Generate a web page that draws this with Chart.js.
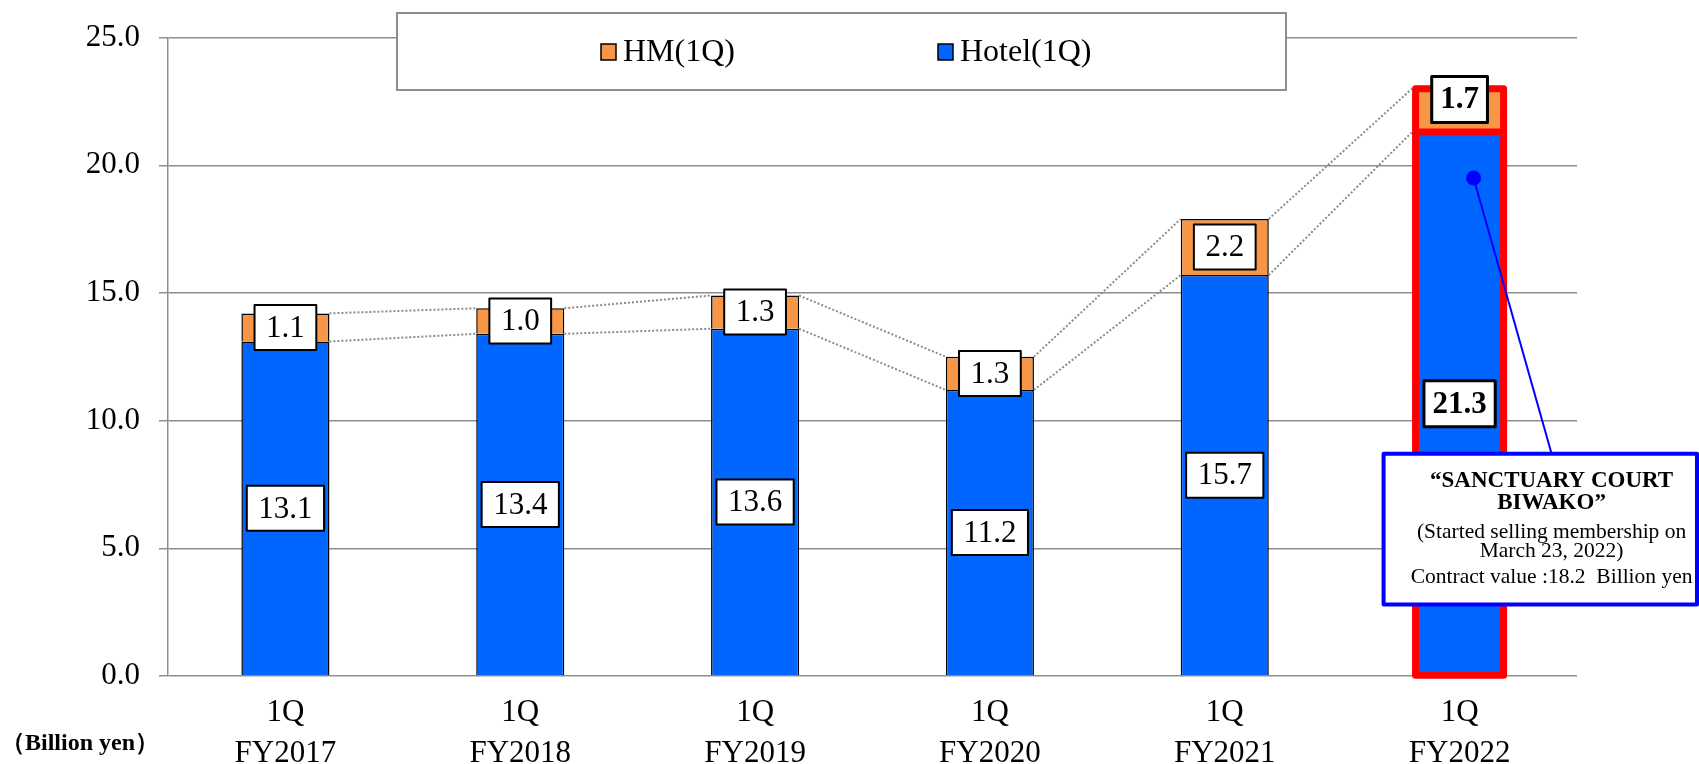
<!DOCTYPE html>
<html lang="en">
<head>
  <meta charset="UTF-8" />
  <title>1Q Sales Chart</title>
  <script src="https://cdn.jsdelivr.net/npm/chart.js"></script>
  <style>
    html, body { margin: 0; padding: 0; background: #fff; }
  </style>
</head>
<body>
  <canvas id="salesChart" width="1699" height="764"></canvas>

  <script>
    const categoryLabels = [["1Q", "FY2017"], ["1Q", "FY2018"], ["1Q", "FY2019"], ["1Q", "FY2020"], ["1Q", "FY2021"], ["1Q", "FY2022"]];
    const hotelValues = [13.1, 13.4, 13.6, 11.2, 15.7, 21.3];
    const hmValues = [1.1, 1.0, 1.3, 1.3, 2.2, 1.7];
    const yTickValues = [0, 5, 10, 15, 20, 25];
    const seriesNames = ["Hotel(1Q)", "HM(1Q)"];
    const highlightIndex = 5;
    const calloutDotValue = 19.5;
    const calloutTitle = ["\u201CSANCTUARY COURT", "BIWAKO\u201D"];
    const calloutNotes = ["(Started selling membership on", "March 23, 2022)", "Contract value :18.2  Billion yen"];
    const unitLabel = "\uFF08Billion yen\uFF09";

    const SERIF = "'Liberation Serif', 'Times New Roman', serif";
    const BLUE = "#0066FF";
    const ORANGE = "#F79646";
    const GRID = "#8e8e8e";

    function boxLabel(ctx, text, cx, cy, bold) {
      ctx.font = (bold ? "bold " : "") + "31px " + SERIF;
      const w = ctx.measureText(text).width + (bold ? 17 : 23);
      const h = bold ? 46 : 45;
      ctx.fillStyle = "#fff";
      ctx.fillRect(cx - w / 2, cy - h / 2, w, h);
      ctx.lineWidth = bold ? 3 : 2;
      ctx.strokeStyle = "#000";
      ctx.strokeRect(cx - w / 2, cy - h / 2, w, h);
      ctx.fillStyle = "#000";
      ctx.textAlign = "center";
      ctx.textBaseline = "middle";
      ctx.fillText(text, cx, cy + 1);
    }

    const extras = {
      id: "extras",
      afterDatasetsDraw(chart) {
        const ctx = chart.ctx;
        const hotel = chart.getDatasetMeta(0).data;
        const hm = chart.getDatasetMeta(1).data;
        const ys = chart.scales.y;
        ctx.save();

        // dotted connectors between bar tops
        ctx.strokeStyle = "#8c8c8c";
        ctx.lineWidth = 2;
        ctx.setLineDash([2, 2]);
        for (let i = 0; i < hotel.length - 1; i++) {
          const a = hotel[i], b = hotel[i + 1];
          const extra = (i + 1 === highlightIndex) ? 3.5 : 0;
          [[hm[i].y, hm[i + 1].y], [a.y, b.y]].forEach(([y1, y2]) => {
            ctx.beginPath();
            ctx.moveTo(a.x + a.width / 2, y1);
            ctx.lineTo(b.x - b.width / 2 - extra, y2);
            ctx.stroke();
          });
        }
        ctx.setLineDash([]);

        // red outline on highlighted bar
        const hb = hotel[highlightIndex], hh = hm[highlightIndex];
        ctx.strokeStyle = "#FF0000";
        ctx.lineWidth = 7;
        ctx.lineJoin = "round";
        ctx.strokeRect(hb.x - hb.width / 2, hh.y, hb.width, hb.base - hh.y);
        ctx.beginPath();
        ctx.moveTo(hb.x - hb.width / 2, hb.y);
        ctx.lineTo(hb.x + hb.width / 2, hb.y);
        ctx.stroke();

        // value labels
        for (let i = 0; i < hotel.length; i++) {
          const bold = i === highlightIndex;
          boxLabel(ctx, hotelValues[i].toFixed(1), hotel[i].x, (hotel[i].y + hotel[i].base) / 2, bold);
          const shift = bold ? -11 : 0;
          boxLabel(ctx, hmValues[i].toFixed(1), hm[i].x, (hm[i].y + hm[i].base) / 2 + shift, bold);
        }

        // callout
        const boxL = hb.x - 76, boxR = chart.width - 2;
        const boxT = ys.getPixelForValue(8.7), boxB = ys.getPixelForValue(2.8);
        const textX = hb.x + 92;
        const dotX = hb.x + 14, dotY = ys.getPixelForValue(calloutDotValue);
        ctx.strokeStyle = "#0000FF";
        ctx.lineWidth = 2;
        ctx.beginPath();
        ctx.moveTo(dotX, dotY);
        ctx.lineTo(textX, boxT);
        ctx.stroke();
        ctx.fillStyle = "#0000FF";
        ctx.beginPath();
        ctx.arc(dotX, dotY, 7.5, 0, Math.PI * 2);
        ctx.fill();
        ctx.fillStyle = "#fff";
        ctx.fillRect(boxL, boxT, boxR - boxL, boxB - boxT);
        ctx.lineWidth = 4;
        ctx.strokeRect(boxL, boxT, boxR - boxL, boxB - boxT);
        ctx.fillStyle = "#000";
        ctx.textAlign = "center";
        ctx.textBaseline = "middle";
        ctx.font = "bold 23px " + SERIF;
        ctx.fillText(calloutTitle[0], textX, boxT + 27);
        ctx.fillText(calloutTitle[1], textX, boxT + 49);
        ctx.font = "21.5px " + SERIF;
        ctx.fillText(calloutNotes[0], textX, boxT + 79);
        ctx.fillText(calloutNotes[1], textX, boxT + 98);
        ctx.fillText(calloutNotes[2], textX, boxT + 124);
        ctx.restore();
      },
      afterDraw(chart) {
        const ctx = chart.ctx;
        const ca = chart.chartArea;
        ctx.save();
        // legend box
        const lx = ca.left + 229, lw = 889, ly = 13, lh = 77;
        ctx.fillStyle = "#fff";
        ctx.fillRect(lx, ly, lw, lh);
        ctx.strokeStyle = GRID;
        ctx.lineWidth = 2;
        ctx.strokeRect(lx, ly, lw, lh);
        const items = [
          { name: seriesNames[1], color: ORANGE, x: lx + 204 },
          { name: seriesNames[0], color: BLUE, x: lx + 541 }
        ];
        ctx.font = "32px " + SERIF;
        ctx.textBaseline = "middle";
        ctx.textAlign = "left";
        items.forEach(it => {
          ctx.fillStyle = it.color;
          ctx.fillRect(it.x, 44, 15, 16);
          ctx.strokeStyle = "#000";
          ctx.lineWidth = 1.5;
          ctx.strokeRect(it.x, 44, 15, 16);
          ctx.fillStyle = "#000";
          ctx.fillText(it.name, it.x + 22, 53);
        });
        // unit label
        ctx.font = "bold 24px " + SERIF;
        ctx.fillText(unitLabel, 1, 744);
        ctx.restore();
      }
    };

    const ctx = document.getElementById("salesChart").getContext("2d");
    new Chart(ctx, {
      type: "bar",
      data: {
        labels: categoryLabels,
        datasets: [
          {
            label: seriesNames[0],
            data: hotelValues,
            backgroundColor: BLUE,
            borderColor: "#000",
            borderWidth: hotelValues.map((v, i) => i === highlightIndex ? 0 : 1.5),
            barPercentage: 0.375,
            categoryPercentage: 1
          },
          {
            label: seriesNames[1],
            data: hmValues,
            backgroundColor: ORANGE,
            borderColor: "#000",
            borderWidth: hmValues.map((v, i) => i === highlightIndex ? 0 : 1.5),
            barPercentage: 0.375,
            categoryPercentage: 1
          }
        ]
      },
      options: {
        responsive: false,
        animation: false,
        layout: { padding: { top: 32, left: 0, right: 122, bottom: 0 } },
        plugins: {
          legend: { display: false },
          tooltip: { enabled: false }
        },
        scales: {
          x: {
            stacked: true,
            grid: { display: false, drawTicks: false },
            border: { display: false },
            ticks: {
              color: "#000",
              font: { family: SERIF, size: 31, lineHeight: 1.3 },
              padding: 17,
              maxRotation: 0
            },
            afterFit: axis => { axis.height = 88; }
          },
          y: {
            stacked: true,
            min: 0,
            max: 25,
            afterBuildTicks: axis => { axis.ticks = yTickValues.map(v => ({ value: v })); },
            grid: { color: GRID, lineWidth: 1.5, tickLength: 9 },
            border: { color: GRID, width: 1.5 },
            ticks: {
              color: "#000",
              font: { family: SERIF, size: 31 },
              padding: 19,
              callback: value => value.toFixed(1)
            },
            afterFit: axis => { axis.width = 168; }
          }
        }
      },
      plugins: [extras]
    });
  </script>
</body>
</html>
